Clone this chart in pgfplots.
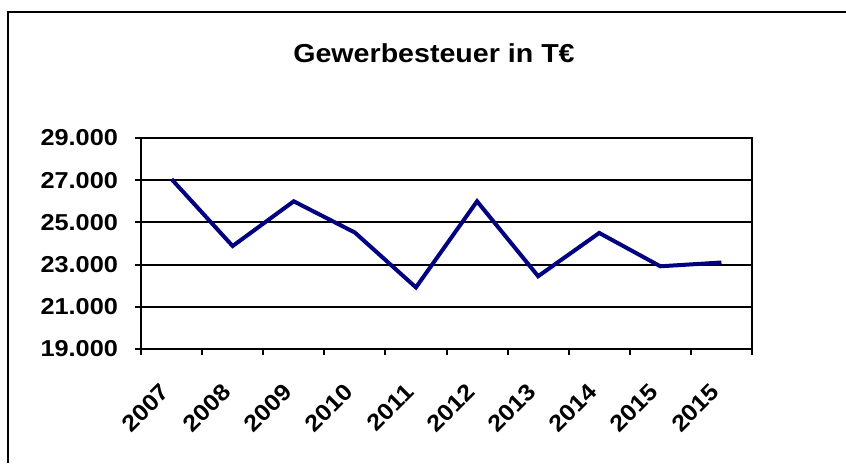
\documentclass[border=0pt]{standalone}
\usepackage{fontspec}
\setmainfont{Liberation Sans}[FakeStretch=1.1]
\usepackage{pgfplots}
\pgfplotsset{compat=1.18}
\definecolor{navyline}{RGB}{0,0,128}
\begin{document}
\begin{tikzpicture}
\useasboundingbox (0,0) rectangle (423pt,231.5pt);
% chart area frame (cut at right and bottom)
\draw[line width=1pt] (3.85pt,0) -- (3.85pt,225.3pt) -- (423pt,225.3pt);
\node[font=\bfseries\fontsize{13}{15}\selectfont, anchor=base] at (217pt,200.5pt) {Gewerbesteuer in T€};
\begin{axis}[at={(70.5pt,57pt)}, anchor=south west,
  scale only axis, width=305.5pt, height=105.5pt,
  xmin=0, xmax=10, ymin=19000, ymax=29000,
  xtick={0,...,10}, x tick label as interval,
  xticklabels={2007,2008,2009,2010,2011,2012,2013,2014,2015,2015},
  ytick={19000,21000,...,29000},
  yticklabels={19.000,21.000,23.000,25.000,27.000,29.000},
  scaled y ticks=false,
  xtick pos=bottom, ytick pos=left,
  tick align=outside, major tick length=3pt,
  ymajorgrids, grid style={black,line width=1pt},
  axis line style={line width=1pt},
  tick style={black,line width=1pt},
  ticklabel style={font=\bfseries\fontsize{11.5}{13}\selectfont},
  yticklabel style={xshift=-5pt},
  xticklabel style={font=\bfseries\fontsize{11.5}{13}\selectfont,
    xshift=-6pt, yshift=-8.5pt, rotate=45, anchor=north east},
  clip=false]
\addplot[navyline, line width=2pt, mark=none] coordinates {
  (0.5,27050) (1.5,23880) (2.5,26000) (3.5,24520) (4.5,21920)
  (5.5,26000) (6.5,22450) (7.5,24500) (8.5,22920) (9.5,23100)};
\end{axis}
\end{tikzpicture}
\end{document}
